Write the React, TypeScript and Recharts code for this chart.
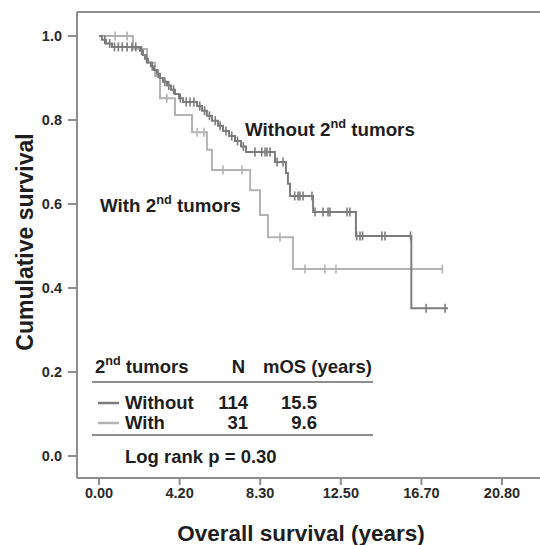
import React from "react";
import { ComposedChart, Line, Scatter, XAxis, YAxis, ReferenceLine } from "recharts";

// Kaplan-Meier steps (time in years, cumulative survival)
const withoutTimes = [0, 0.15, 0.36, 0.67, 2.12, 2.27, 2.37, 2.53, 2.68, 2.84, 2.99, 3.15, 3.3, 3.51, 3.72, 3.92, 4.13, 4.34, 5.06, 5.32, 5.57, 5.83, 6.14, 6.4, 6.71, 7.02, 7.33, 7.59, 9.08, 9.65, 9.75, 9.86, 11.05, 13.26, 16.12, 18.01];
const withoutSurv = [1.0, 0.991, 0.982, 0.974, 0.965, 0.955, 0.946, 0.937, 0.928, 0.919, 0.91, 0.9, 0.891, 0.882, 0.872, 0.862, 0.852, 0.843, 0.833, 0.822, 0.81, 0.798, 0.786, 0.774, 0.762, 0.75, 0.737, 0.724, 0.7, 0.674, 0.648, 0.619, 0.581, 0.524, 0.352, 0.352];
const withoutCensored = [0.3, 0.55, 0.8, 1.0, 1.2, 1.45, 1.7, 1.9, 2.2, 2.45, 2.75, 3.05, 3.4, 3.6, 3.85, 4.2, 4.5, 4.7, 4.9, 5.2, 5.45, 5.7, 6.0, 6.25, 6.55, 6.85, 7.15, 7.45, 8.05, 8.4, 8.57, 8.67, 8.83, 9.19, 9.5, 10.1, 10.27, 10.37, 10.53, 10.99, 11.15, 11.56, 11.82, 11.92, 12.8, 12.95, 13.3, 13.47, 13.6, 14.6, 14.76, 16.08, 16.88, 17.86];

const withTimes = [0, 1.75, 2.48, 2.89, 3.15, 3.92, 4.8, 5.57, 5.83, 7.8, 8.31, 8.72, 10.01, 17.75];
const withSurv = [1.0, 0.969, 0.936, 0.905, 0.852, 0.812, 0.771, 0.729, 0.681, 0.633, 0.574, 0.521, 0.445, 0.445];
const withCensored = [0.83, 1.45, 3.5, 5.06, 5.42, 6.4, 7.38, 9.34, 10.63, 11.66, 12.23, 17.72];

const xTicks = [0, 4.16, 8.32, 12.48, 16.64, 20.8];
const xTickLabels = ["0.00", "4.20", "8.30", "12.50", "16.70", "20.80"];
const yTicks = [0, 0.2, 0.4, 0.6, 0.8, 1.0];

const DARK = "#7c7c7c";
const LIGHT = "#b3b3b3";
const AXIS = "#8e8e8e";
const TEXT = "#1e1e1e";
const FONT = "'Liberation Sans', Arial, sans-serif";

const steps = (times: number[], surv: number[]) => times.map((t, i) => ({ t, s: surv[i] }));

const survAt = (times: number[], surv: number[], t: number) => {
  let s = surv[0];
  for (let i = 0; i < times.length; i++) if (times[i] <= t) s = surv[i];
  return s;
};

const censorPoints = (cens: number[], times: number[], surv: number[]) =>
  cens.map((t) => ({ t, s: survAt(times, surv, t) }));

const tick = (color: string) => (props: any) => {
  const { cx, cy } = props;
  return <line x1={cx} x2={cx} y1={cy - 4.5} y2={cy + 4.5} stroke={color} strokeWidth={1.6} />;
};

const Sup = ({ x, y, pre, sup, post, size }: any) => (
  <text x={x} y={y} fontSize={size} fontWeight="bold" fill={TEXT} fontFamily={FONT}>
    {pre}
    <tspan dy={-8} fontSize={size * 0.68}>{sup}</tspan>
    <tspan dy={8}>{post}</tspan>
  </text>
);

const T = ({ x, y, anchor, children }: any) => (
  <text x={x} y={y} textAnchor={anchor ?? "start"} fontSize={18.5} fontWeight="bold" fill={TEXT} fontFamily={FONT}>
    {children}
  </text>
);

export default function App() {
  const tickStyle = { fill: "#2a2a2a", fontSize: 14.5, fontWeight: "bold", fontFamily: FONT };
  return (
    <div style={{ position: "absolute", left: 0, top: 0, width: 540, height: 545, background: "#fff" }}>
      <ComposedChart width={540} height={545} margin={{ top: 12, right: 0, bottom: 0, left: 0 }}>
        <XAxis
          type="number"
          dataKey="t"
          domain={[-1.135, 22.76]}
          allowDataOverflow
          ticks={xTicks}
          tickFormatter={(v: number) => xTickLabels[xTicks.indexOf(v)] ?? ""}
          height={67}
          tickSize={7}
          tickMargin={3}
          stroke={AXIS}
          strokeWidth={2}
          tick={tickStyle}
          interval={0}
        />
        <YAxis
          type="number"
          dataKey="s"
          domain={[-0.0524, 1.0571]}
          allowDataOverflow
          ticks={yTicks}
          tickFormatter={(v: number) => v.toFixed(1)}
          width={77}
          tickSize={9}
          tickMargin={6}
          stroke={AXIS}
          strokeWidth={2}
          tick={tickStyle}
          interval={0}
        />
        <ReferenceLine y={1.0571} stroke={AXIS} strokeWidth={2} />
        <Line
          data={steps(withTimes, withSurv)}
          dataKey="s"
          type="stepAfter"
          stroke={LIGHT}
          strokeWidth={2}
          dot={false}
          activeDot={false}
          isAnimationActive={false}
        />
        <Scatter
          data={censorPoints(withCensored, withTimes, withSurv)}
          shape={tick(LIGHT)}
          isAnimationActive={false}
        />
        <Line
          data={steps(withoutTimes, withoutSurv)}
          dataKey="s"
          type="stepAfter"
          stroke={DARK}
          strokeWidth={2}
          dot={false}
          activeDot={false}
          isAnimationActive={false}
        />
        <Scatter
          data={censorPoints(withoutCensored, withoutTimes, withoutSurv)}
          shape={tick(DARK)}
          isAnimationActive={false}
        />
      </ComposedChart>

      <svg width={540} height={545} style={{ position: "absolute", left: 0, top: 0, pointerEvents: "none" }}>
        {/* axis titles */}
        <text x={301} y={541} textAnchor="middle" fontSize={22.5} fontWeight="bold" fill={TEXT} fontFamily={FONT}>
          Overall survival (years)
        </text>
        <text
          transform="translate(33,242) rotate(-90)"
          textAnchor="middle"
          fontSize={23}
          fontWeight="bold"
          fill={TEXT}
          fontFamily={FONT}
        >
          Cumulative survival
        </text>

        {/* curve labels */}
        <Sup x={245} y={136} pre="Without 2" sup="nd" post=" tumors" size={18.8} />
        <Sup x={100} y={212} pre="With 2" sup="nd" post=" tumors" size={18.8} />

        {/* summary table */}
        <Sup x={95} y={373} pre="2" sup="nd" post=" tumors" size={18.5} />
        <T x={245} y={373} anchor="end">N</T>
        <T x={263} y={373}>mOS (years)</T>
        <line x1={92} x2={373} y1={382} y2={382} stroke={AXIS} strokeWidth={2} />

        <line x1={98} x2={119} y1={403} y2={403} stroke={DARK} strokeWidth={2.5} />
        <T x={125} y={409}>Without</T>
        <T x={248} y={409} anchor="end">114</T>
        <T x={317} y={409} anchor="end">15.5</T>

        <line x1={98} x2={119} y1={423} y2={423} stroke={LIGHT} strokeWidth={2.5} />
        <T x={125} y={429}>With</T>
        <T x={248} y={429} anchor="end">31</T>
        <T x={317} y={429} anchor="end">9.6</T>
        <line x1={92} x2={373} y1={435} y2={435} stroke={AXIS} strokeWidth={2} />

        <T x={125} y={463}>Log rank p = 0.30</T>
      </svg>
    </div>
  );
}
